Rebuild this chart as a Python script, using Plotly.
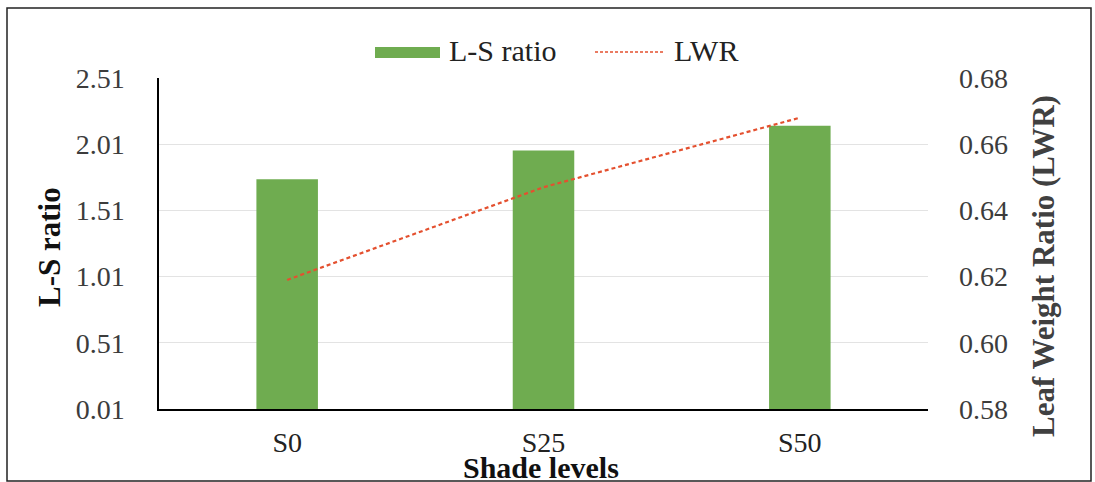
import plotly.graph_objects as go

# Data
shade_levels = ["S0", "S25", "S50"]
ls_ratio = [1.745, 1.963, 2.15]
lwr = [0.619, 0.647, 0.668]
left_ticks = [0.01, 0.51, 1.01, 1.51, 2.01, 2.51]
right_ticks = [0.58, 0.60, 0.62, 0.64, 0.66, 0.68]

W, H = 1095, 482
L, R, T, B = 159, 928, 78, 409  # plot area in pixels

def px(x):
    return (x - L) / (R - L)

def py(y):
    return (B - y) / (B - T)

FONT = "Liberation Serif, Times New Roman, serif"
GREEN = "#6fac50"
RED = "#e4502f"
TICK_COLOR = "#3c3c3c"

fig = go.Figure()
fig.add_trace(go.Bar(
    x=shade_levels, y=ls_ratio, name="L-S ratio",
    marker=dict(color=GREEN, line=dict(width=0)),
    width=0.24, yaxis="y",
))
fig.add_trace(go.Scatter(
    x=shade_levels, y=lwr, name="LWR", mode="lines",
    line=dict(color=RED, width=2.2, dash="4px,3px"),
    yaxis="y2",
))

fig.update_layout(
    width=W, height=H,
    margin=dict(l=L, r=W - R, t=T, b=H - B),
    paper_bgcolor="white", plot_bgcolor="white",
    showlegend=False,
    font=dict(family=FONT, size=28, color=TICK_COLOR),
    xaxis=dict(
        showline=True, linecolor="black", linewidth=1.5,
        showgrid=False, ticks="", ticklabelstandoff=8,
        tickfont=dict(family=FONT, size=28, color="#222222"),
    ),
    yaxis=dict(
        range=[0.01, 2.51], tickvals=left_ticks, ticktext=[f"{v:.2f}" for v in left_ticks],
        showline=True, linecolor="black", linewidth=1.5,
        showgrid=True, gridcolor="#e3e3e3", gridwidth=1,
        zeroline=False, ticks="", ticklabelstandoff=27,
        tickfont=dict(family=FONT, size=28, color=TICK_COLOR),
    ),
    yaxis2=dict(
        range=[0.58, 0.68], tickvals=right_ticks, ticktext=[f"{v:.2f}" for v in right_ticks],
        overlaying="y", side="right", showgrid=False, showline=False,
        zeroline=False, ticks="", ticklabelstandoff=30,
        tickfont=dict(family=FONT, size=28, color=TICK_COLOR),
    ),
)

# Axis titles
fig.add_annotation(
    text="<b>L-S ratio</b>", xref="paper", yref="paper",
    x=px(49), y=py(247), textangle=-90, showarrow=False,
    font=dict(family=FONT, size=31, color="#111111"),
    xanchor="center", yanchor="middle",
)
fig.add_annotation(
    text="<b>Leaf Weight Ratio (LWR)</b>", xref="paper", yref="paper",
    x=px(1043), y=py(266), textangle=-90, showarrow=False,
    font=dict(family=FONT, size=31, color="#404040"),
    xanchor="center", yanchor="middle",
)
fig.add_annotation(
    text="<b>Shade levels</b>", xref="paper", yref="paper",
    x=px(541), y=py(467), showarrow=False,
    font=dict(family=FONT, size=30, color="#111111"),
    xanchor="center", yanchor="middle",
)

# Legend
fig.add_shape(type="rect", xref="paper", yref="paper",
              x0=px(375), x1=px(440), y0=py(47), y1=py(58),
              fillcolor=GREEN, line=dict(width=0))
fig.add_annotation(text="L-S ratio", xref="paper", yref="paper",
                   x=px(447), y=py(51), showarrow=False,
                   xanchor="left", yanchor="middle",
                   font=dict(family=FONT, size=30, color="#222222"))
fig.add_shape(type="line", xref="paper", yref="paper",
              x0=px(595), x1=px(665), y0=py(52), y1=py(52),
              line=dict(color=RED, width=1.5, dash="3px,2px"))
fig.add_annotation(text="LWR", xref="paper", yref="paper",
                   x=px(672), y=py(51), showarrow=False,
                   xanchor="left", yanchor="middle",
                   font=dict(family=FONT, size=30, color="#222222"))

# Outer frame
fig.add_shape(type="rect", xref="paper", yref="paper",
              x0=px(7), x1=px(1091), y0=py(8), y1=py(481),
              line=dict(color="#222222", width=1.5), fillcolor="rgba(0,0,0,0)")

fig.write_html("out.html")
